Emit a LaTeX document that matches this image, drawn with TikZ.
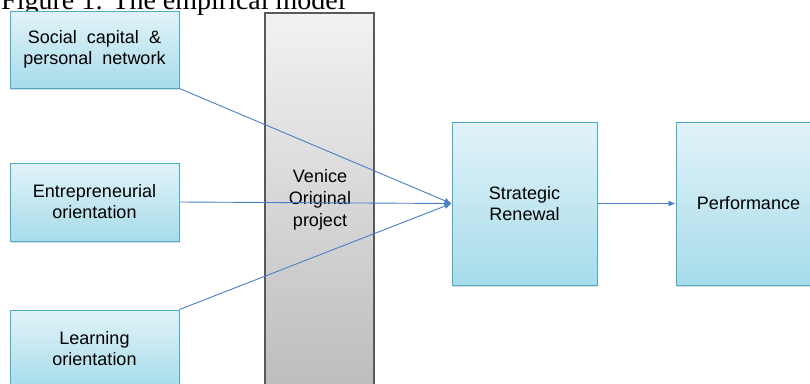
\documentclass[tikz,border=0pt]{standalone}
\usepackage{fontspec}
\setmainfont{Liberation Sans}
\newfontfamily\titlefont{Liberation Serif}
\usetikzlibrary{arrows.meta,shadows}
\definecolor{boxtop}{HTML}{E2F3F9}
\definecolor{boxbot}{HTML}{A6DCEA}
\definecolor{boxedge}{HTML}{4BACC6}
\definecolor{bartop}{HTML}{F2F2F2}
\definecolor{barbot}{HTML}{BBBBBB}
\definecolor{baredge}{HTML}{595959}
\definecolor{link}{HTML}{4A7EC9}
\tikzset{
  factor/.style={draw=boxedge, line width=1pt, top color=boxtop, bottom color=boxbot,
    drop shadow={opacity=0.25, shadow xshift=1.2pt, shadow yshift=-1.6pt},
    align=center, inner sep=0pt,
    font=\fontsize{18}{21}\selectfont},
  venicebar/.style={draw=baredge, line width=1.2pt, top color=bartop, bottom color=barbot,
    inner sep=0pt},
  link/.style={draw=link, line width=0.9pt, -{Latex[length=7pt,width=6pt]}},
  label/.style={align=center, inner sep=0pt, font=\fontsize{18}{22}\selectfont}
}
\begin{document}
\begin{tikzpicture}[x=1pt,y=-1pt]
\useasboundingbox (0,0) rectangle (810,383);
\clip (0,0) rectangle (810,383);
\fill[white] (0,0) rectangle (810,383);

% caption
\node[anchor=base west, inner sep=0pt, font=\titlefont\fontsize{28}{32}\selectfont]
  (title) at (1,9) {Figure 1: The empirical model};

% mediating project bar
\node[venicebar, minimum width=109pt, minimum height=387pt] (bar) at (319.5,206.5) {};
\node[label] (venice) at (320,200) {Venice\\Original\\project};

% antecedents
\node[factor, minimum width=169pt, minimum height=77pt] (soc) at (94.5,49.5)
  {Social\ \ capital\ \ \&\\personal\ \ network};
\node[factor, minimum width=169pt, minimum height=78pt] (ent) at (94.5,202)
  {Entrepreneurial\\orientation};
\node[factor, minimum width=169pt, minimum height=78pt] (lrn) at (94.5,349)
  {Learning\\orientation};

% outcomes
\node[factor, minimum width=145pt, minimum height=163pt] (sr) at (524.5,203.5)
  {Strategic\\Renewal};
\node[factor, minimum width=145pt, minimum height=163pt] (perf) at (748.5,203.5)
  {Performance};

% relations
\draw[link] (soc.south east) -- (sr.west);
\draw[link] (ent.east) -- (sr.west);
\draw[link] (lrn.north east) -- (sr.west);
\draw[link] (sr.east) -- (perf.west);
\end{tikzpicture}
\end{document}
